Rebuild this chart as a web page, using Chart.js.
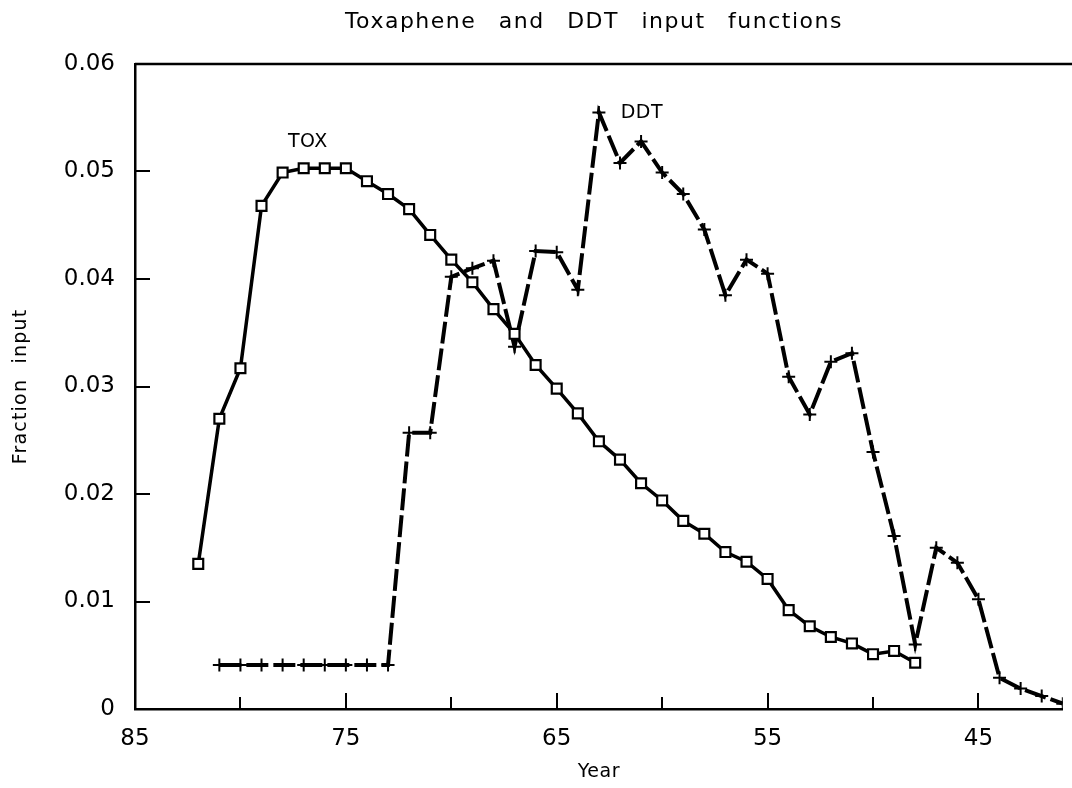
<!DOCTYPE html>
<html>
<head>
<meta charset="utf-8">
<title>Toxaphene and DDT input functions</title>
<script src="https://cdn.jsdelivr.net/npm/chart.js@4/dist/chart.umd.min.js"></script>
<style>
  html, body { margin: 0; padding: 0; background: #fff; }
  #wrap { width: 1072px; height: 788px; }
</style>
</head>
<body>
<div id="wrap"><canvas id="chart" width="1072" height="788"></canvas></div>
<script>
// years run backwards on the x axis (85 on the left)
const toxYears = [82, 81, 80, 79, 78, 77, 76, 75, 74, 73, 72, 71, 70, 69, 68, 67, 66, 65,
  64, 63, 62, 61, 60, 59, 58, 57, 56, 55, 54, 53, 52, 51, 50, 49, 48];
const toxValues = [0.0135, 0.0270, 0.0317, 0.0468, 0.0499, 0.0503, 0.0503, 0.0503, 0.0491,
  0.0479, 0.0465, 0.0441, 0.0418, 0.0397, 0.0372, 0.0349, 0.0320, 0.0298, 0.0275, 0.0249,
  0.0232, 0.0210, 0.0194, 0.0175, 0.0163, 0.0146, 0.0137, 0.0121, 0.0092, 0.0077, 0.0067,
  0.0061, 0.0051, 0.0054, 0.0043];

const ddtYears = [81, 80, 79, 78, 77, 76, 75, 74, 73, 72, 71, 70, 69, 68, 67, 66, 65, 64,
  63, 62, 61, 60, 59, 58, 57, 56, 55, 54, 53, 52, 51, 50, 49, 48, 47, 46, 45, 44, 43, 42, 41];
const ddtValues = [0.0041, 0.0041, 0.0041, 0.0041, 0.0041, 0.0041, 0.0041, 0.0041, 0.0041,
  0.0257, 0.0257, 0.0402, 0.0410, 0.0417, 0.0337, 0.0426, 0.0425, 0.0390, 0.0555, 0.0508,
  0.0528, 0.0499, 0.0479, 0.0446, 0.0385, 0.0418, 0.0405, 0.0309, 0.0274, 0.0323, 0.0331,
  0.0239, 0.0161, 0.0060, 0.0150, 0.0136, 0.0102, 0.0029, 0.0019, 0.0012, 0.0005];

// tick values
const xMajorTicks = [85, 75, 65, 55, 45];
const xMinorTicks = [80, 70, 60, 50];
const yTicks = [0.01, 0.02, 0.03, 0.04, 0.05];

// in-plot series labels (data coordinates)
const seriesLabels = [
  { text: 'TOX', x: 76.8, y: 0.0527 },
  { text: 'DDT', x: 60.96, y: 0.0554 }
];

const FONT = "'DejaVu Sans', 'Liberation Sans', sans-serif";

function toPoints(xs, ys) {
  return xs.map((x, i) => ({ x: x, y: ys[i] }));
}

// draws title, axis names, inward tick marks, top frame and series labels
const decorations = {
  id: 'decorations',
  afterDraw(chart) {
    const ctx = chart.ctx;
    const area = chart.chartArea;
    const xs = chart.scales.x;
    const ys = chart.scales.y;
    const midX = (area.left + area.right) / 2;
    ctx.save();
    ctx.strokeStyle = '#000';
    ctx.fillStyle = '#000';

    // top frame line
    ctx.lineWidth = 2.5;
    ctx.beginPath();
    ctx.moveTo(area.left, area.top);
    ctx.lineTo(chart.width, area.top);
    ctx.stroke();

    // inward ticks
    ctx.lineWidth = 2;
    ctx.beginPath();
    xMajorTicks.forEach(v => {
      const px = Math.round(xs.getPixelForValue(v));
      ctx.moveTo(px, area.bottom);
      ctx.lineTo(px, area.bottom - 16);
    });
    xMinorTicks.forEach(v => {
      const px = Math.round(xs.getPixelForValue(v));
      ctx.moveTo(px, area.bottom);
      ctx.lineTo(px, area.bottom - 12);
    });
    yTicks.forEach(v => {
      const py = Math.round(ys.getPixelForValue(v));
      ctx.moveTo(area.left, py);
      ctx.lineTo(area.left + 15, py);
    });
    ctx.stroke();

    // title
    ctx.textAlign = 'center';
    ctx.textBaseline = 'middle';
    ctx.font = '22px ' + FONT;
    ctx.letterSpacing = '1.5px';
    ctx.wordSpacing = '14px';
    ctx.fillText('Toxaphene and DDT input functions', midX - 5, 22);

    // axis names
    ctx.font = '19px ' + FONT;
    ctx.letterSpacing = '0.5px';
    ctx.wordSpacing = '0px';
    ctx.fillText('Year', midX, 772);
    ctx.save();
    ctx.translate(21, (area.top + area.bottom) / 2);
    ctx.rotate(-Math.PI / 2);
    ctx.letterSpacing = '1.2px';
    ctx.wordSpacing = '8px';
    ctx.fillText('Fraction input', 0, 0);
    ctx.restore();

    // series labels
    ctx.font = '19px ' + FONT;
    ctx.letterSpacing = '0.5px';
    ctx.wordSpacing = '0px';
    seriesLabels.forEach(l => {
      ctx.fillText(l.text, xs.getPixelForValue(l.x), ys.getPixelForValue(l.y));
    });
    ctx.restore();
  }
};

Chart.defaults.font.family = FONT;
Chart.defaults.color = '#000';

new Chart(document.getElementById('chart').getContext('2d'), {
  type: 'line',
  data: {
    datasets: [
      {
        label: 'TOX',
        data: toPoints(toxYears, toxValues),
        borderColor: '#000',
        borderWidth: 3.5,
        tension: 0,
        pointStyle: 'rect',
        pointRadius: 7,
        pointBorderWidth: 2.2,
        pointBackgroundColor: '#fff',
        pointBorderColor: '#000'
      },
      {
        label: 'DDT',
        data: toPoints(ddtYears, ddtValues),
        borderColor: '#000',
        borderWidth: 4,
        borderDash: [22, 5],
        tension: 0,
        pointStyle: 'cross',
        pointRadius: 6.5,
        pointBorderWidth: 2,
        pointBorderColor: '#000'
      }
    ]
  },
  options: {
    responsive: false,
    animation: false,
    events: [],
    layout: { padding: { top: 64, right: 9, bottom: 0, left: 0 } },
    plugins: {
      legend: { display: false },
      tooltip: { enabled: false }
    },
    scales: {
      x: {
        type: 'linear',
        reverse: true,
        min: 41,
        max: 85,
        grid: { display: false },
        border: { display: true, color: '#000', width: 2.5 },
        afterBuildTicks: s => { s.ticks = xMajorTicks.map(v => ({ value: v })); },
        afterFit: s => { s.height = 79; },
        ticks: {
          autoSkip: false,
          maxRotation: 0,
          padding: 8,
          font: { size: 23 },
          callback: v => String(v)
        }
      },
      y: {
        min: 0,
        max: 0.06,
        grid: { display: false },
        border: { display: true, color: '#000', width: 2.5 },
        afterFit: s => { s.width = 135; },
        ticks: {
          stepSize: 0.01,
          padding: 12,
          font: { size: 23 },
          callback: v => (v === 0 ? '0' : v.toFixed(2))
        }
      }
    }
  },
  plugins: [decorations]
});
</script>
</body>
</html>
